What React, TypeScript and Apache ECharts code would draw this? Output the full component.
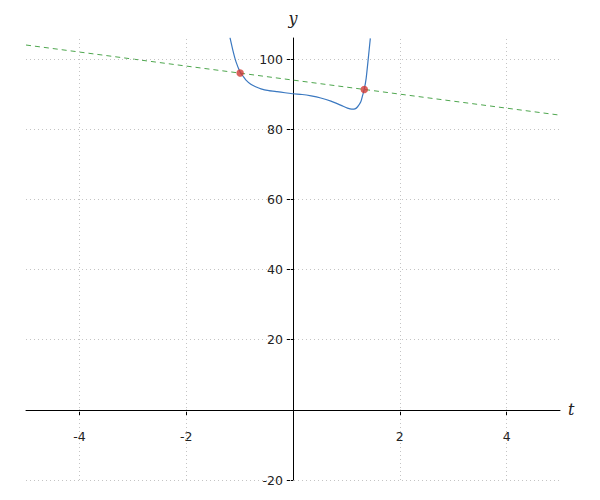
import React, { useEffect, useRef } from "react";
import * as echarts from "echarts";

const curveT = [-1.18, -1.12, -1.067, -0.987, -0.93, -0.88, -0.79, -0.7, -0.6, -0.45, -0.3, -0.15, 0, 0.17, 0.34, 0.52, 0.71, 0.9, 1.02, 1.1, 1.16, 1.21, 1.27, 1.305, 1.335, 1.37, 1.41, 1.448];
const curveY = [106.1, 102.1, 99.2, 96.2, 95.0, 94.0, 92.8, 92.1, 91.5, 91.0, 90.7, 90.4, 90.1, 89.9, 89.5, 88.9, 88.0, 86.8, 86.0, 85.7, 85.8, 86.4, 87.8, 89.7, 91.4, 94.5, 100.2, 105.9];
const lineT = [-5, 5];
const lineY = [104, 84];
const pointT = [-0.99, 1.335];
const pointY = [96.0, 91.3];
const xTicks = [-4, -2, 2, 4];
const yTicks = [-20, 20, 40, 60, 80, 100];
const xGrid = [-4, -2, 2, 4];
const yGrid = [-20, 20, 40, 60, 80, 100];

const X_MIN = -5;
const X_MAX = 5;
const Y_MIN = -20;
const Y_MAX = 106;

export default function App() {
  const ref = useRef<HTMLDivElement>(null);
  useEffect(() => {
    if (!ref.current) return;
    const chart = echarts.init(ref.current, null, { renderer: "svg" });
    const W = 600, H = 500;
    const gl = 26, gr = 40, gt = 38, gb = 20;
    const pw = W - gl - gr;
    const ph = H - gt - gb;
    const yAxisOffset = -((0 - X_MIN) / (X_MAX - X_MIN)) * pw;
    const xAxisOffset = -((0 - Y_MIN) / (Y_MAX - Y_MIN)) * ph;
    const labelFont = { fontFamily: "DejaVu Sans", fontSize: 12.5, color: "#222222" };
    const nameFont = { fontFamily: "DejaVu Serif", fontStyle: "italic" as const, fontSize: 16, color: "#222222" };
    chart.setOption({
      animation: false,
      backgroundColor: "#ffffff",
      grid: { left: gl, right: gr, top: gt, bottom: gb, containLabel: false, outerBoundsMode: "none" },
      xAxis: {
        type: "value",
        min: X_MIN,
        max: X_MAX,
        position: "bottom",
        offset: xAxisOffset,
        name: "t",
        nameLocation: "end",
        nameGap: 8,
        nameTextStyle: { ...nameFont, verticalAlign: "middle" },
        axisLine: { onZero: false, lineStyle: { color: "#000", width: 1 } },
        axisTick: { show: true, length: 6, customValues: xTicks, lineStyle: { color: "#000" } },
        axisLabel: { ...labelFont, margin: 20, customValues: xTicks },
        splitLine: { show: false },
      },
      yAxis: {
        type: "value",
        min: Y_MIN,
        max: Y_MAX,
        position: "left",
        offset: yAxisOffset,
        name: "y",
        nameLocation: "end",
        nameGap: 12,
        nameTextStyle: { ...nameFont, align: "center" },
        axisLine: { show: true, onZero: false, lineStyle: { color: "#000", width: 1 } },
        axisTick: { show: true, length: 7, customValues: yTicks, lineStyle: { color: "#000" } },
        axisLabel: { ...labelFont, margin: 10, customValues: yTicks },
        splitLine: { show: false },
      },
      series: [
        {
          type: "line",
          data: [],
          silent: true,
          z: 0,
          markLine: {
            silent: true,
            symbol: "none",
            animation: false,
            label: { show: false },
            lineStyle: { color: "#c4c4c4", width: 1, type: [1, 3] },
            data: [
              ...xGrid.map((v) => ({ xAxis: v })),
              ...yGrid.map((v) => ({ yAxis: v })),
            ],
          },
        },
        {
          type: "line",
          data: lineT.map((t, i) => [t, lineY[i]]),
          showSymbol: false,
          lineStyle: { color: "#4ea64e", width: 1, type: [5, 4] },
          z: 2,
        },
        {
          type: "line",
          data: curveT.map((t, i) => [t, curveY[i]]),
          showSymbol: false,
          smooth: 0.2,
          lineStyle: { color: "#3a78c0", width: 1.2 },
          z: 3,
        },
        {
          type: "scatter",
          data: pointT.map((t, i) => [t, pointY[i]]),
          symbolSize: 7.5,
          itemStyle: { color: "#d13b34" },
          z: 4,
        },
      ],
    });
    return () => chart.dispose();
  }, []);
  return <div ref={ref} style={{ width: 600, height: 500, position: "absolute", left: 0, top: 0 }} />;
}
